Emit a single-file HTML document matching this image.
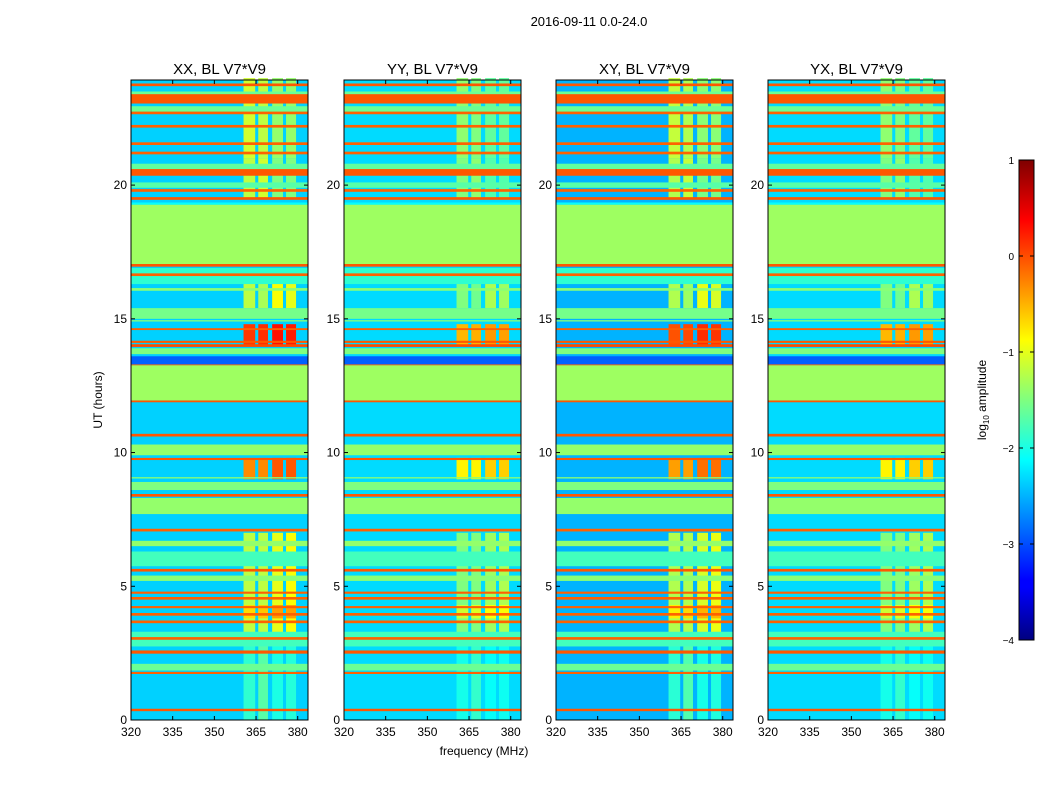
<!DOCTYPE html>
<html><head><meta charset="utf-8"><style>
body{margin:0;background:#fff;font-family:"Liberation Sans",sans-serif}
svg text{font-family:"Liberation Sans",sans-serif}
</style></head><body>
<svg id="fig" width="1050" height="800" viewBox="0 0 1050 800">
<rect width="1050" height="800" fill="#fff"/>
<text x="589" y="26" font-size="13" text-anchor="middle">2016-09-11 0.0-24.0</text>
<g id="panels"></g>
<text x="484" y="755" font-size="12" text-anchor="middle">frequency (MHz)</text>
<text transform="translate(102,400) rotate(-90)" font-size="12" text-anchor="middle">UT (hours)</text>
<defs><linearGradient id="jetg" x1="0" y1="1" x2="0" y2="0">
<stop offset="0" stop-color="#00007f"/><stop offset="0.11" stop-color="#0000ff"/><stop offset="0.125" stop-color="#0000ff"/><stop offset="0.375" stop-color="#00ffff"/><stop offset="0.625" stop-color="#ffff00"/><stop offset="0.875" stop-color="#ff0000"/><stop offset="1" stop-color="#7f0000"/></linearGradient></defs>
<rect x="1019" y="160" width="15" height="480" fill="url(#jetg)" stroke="#000"/>
<g id="cbticks"></g>
<text transform="translate(986,400) rotate(-90)" font-size="12" text-anchor="middle">log<tspan font-size="8" dy="3">10</tspan><tspan dy="-3"> amplitude</tspan></text>
</svg>
<script>
const panelNames = ["XX, BL V7*V9","YY, BL V7*V9","XY, BL V7*V9","YX, BL V7*V9"];
const panelBase = [-2.35,-2.3,-2.5,-2.3];
const rfiScale = [1.0,0.75,0.95,0.75];
const xTicks = [320,335,350,365,380];
const yTicks = [0,5,10,15,20];
const cbTicks = [1,0,-1,-2,-3,-4];
// horizontal bands: start hour, end hour, log10 amplitude
const bandStart = [0.33,1.72,1.85,2.48,2.75,3.0,3.62,3.9,4.18,4.5,4.72,5.2,5.55,5.75,6.5,7.05,7.7,8.35,8.6,9.03,9.72,9.9,10.6,11.88,11.95,13.27,13.3,13.68,13.95,14.1,14.58,14.9,15.0,16.05,16.3,16.6,16.95,17.05,19.27,19.45,19.75,19.9,20.35,20.6,21.15,21.5,22.15,22.65,22.75,23.05,23.4,23.7];
const bandEnd   = [0.42,1.8,2.1,2.6,3.3,3.1,3.72,4.0,4.26,4.6,4.8,5.4,5.65,6.3,6.7,7.15,8.3,8.45,8.9,9.08,9.8,10.3,10.7,11.95,13.27,13.3,13.6,13.9,14.05,14.18,14.65,14.95,15.4,16.15,16.9,16.7,17.05,19.27,19.35,19.55,19.85,20.1,20.65,20.8,21.25,21.6,22.25,22.75,22.95,23.45,23.5,23.8];
const bandValue = [-0.05,-0.1,-1.6,-0.05,-1.8,-0.1,-0.1,-0.1,-0.1,-0.1,-0.1,-1.45,-0.05,-1.8,-1.4,-0.1,-1.4,-0.05,-1.5,-1.45,-0.05,-1.4,-0.05,-0.05,-1.35,-0.05,-2.9,-1.5,0.0,-0.05,-0.1,-1.45,-1.55,-1.45,-1.9,-0.1,-0.05,-1.35,-2.1,-0.05,-0.1,-1.7,-0.05,-1.65,-0.1,-0.1,-0.1,-0.1,-1.6,-0.05,-1.6,-0.05];
// RFI channel columns (MHz)
const rfiFreqStart = [360.5,365.8,370.8,375.8];
const rfiFreqEnd   = [364.7,369.3,374.7,379.4];
// RFI time bands: start hour, end hour, per-column values
const rfiStart = [0,3.1,3.8,9.0,14.0,15.4,19.5,21.0];
const rfiEnd   = [3.0,7.0,4.3,9.8,14.8,16.6,21.0,24.0];
const rfiVals = [[-1.9,-1.7,-2.0,-1.95],[-1.2,-1.2,-1.0,-0.9],[-0.7,-0.6,-0.4,-0.4],[-0.3,-0.3,-0.05,-0.05],[0.1,0.15,0.3,0.25],[-1.2,-1.3,-0.9,-1.0],[-1.2,-1.1,-1.5,-1.5],[-1.1,-1.2,-1.4,-1.4]];
const panelX = [131,344,556,768], PW=177, PT=80, PB=720;
const fMin=320,fMax=383.7,tMin=0,tMax=23.93;
const NS="http://www.w3.org/2000/svg";
function jet(v){let t=Math.max(0,Math.min(1,(v+4)/5));
 const r=Math.max(0,Math.min(1,Math.min(4*t-1.5,-4*t+4.5)));
 const g=Math.max(0,Math.min(1,Math.min(4*t-0.5,-4*t+3.5)));
 const b=Math.max(0,Math.min(1,Math.min(4*t+0.5,-4*t+2.5)));
 return `rgb(${Math.round(r*255)},${Math.round(g*255)},${Math.round(b*255)})`;}
function mk(tag,attrs,parent){const e=document.createElementNS(NS,tag);for(const k in attrs)e.setAttribute(k,attrs[k]);parent.appendChild(e);return e;}
const root=document.getElementById('panels');
panelNames.forEach((name,p)=>{
 const x0=panelX[p];
 const xs=f=>x0+(f-fMin)/(fMax-fMin)*PW;
 const ys=h=>PB-(h-tMin)/(tMax-tMin)*(PB-PT);
 const g=mk('g',{},root);
 
 
 const bg=mk('rect',{x:x0,y:PT,width:PW,height:PB-PT,fill:jet(panelBase[p])},g);
 
 
 rfiStart.forEach((s,i)=>{rfiFreqStart.forEach((fs,c)=>{
  const v=-2.4+(rfiVals[i][c]+2.4)*rfiScale[p];
  const r=mk('rect',{x:xs(fs),y:ys(rfiEnd[i]),width:xs(rfiFreqEnd[c])-xs(fs),height:ys(s)-ys(rfiEnd[i]),fill:jet(v)},g);
  
  
 });});
 bandStart.forEach((s,i)=>{
  const r=mk('rect',{x:x0,y:ys(bandEnd[i]),width:PW,height:Math.max(1,ys(s)-ys(bandEnd[i])),fill:jet(bandValue[i])},g);
  
  
 });
 const fr=mk('rect',{x:x0,y:PT,width:PW,height:PB-PT,fill:'none',stroke:'#000','stroke-width':1},g);
 
 
 const tt=mk('text',{x:x0+PW/2,y:74,'font-size':15,'text-anchor':'middle'},g);tt.textContent=name;
 
 
 xTicks.forEach(f=>{const x=xs(f);
  mk('line',{x1:x,x2:x,y1:PB,y2:PB-4,stroke:'#000'},g);mk('line',{x1:x,x2:x,y1:PT,y2:PT+4,stroke:'#000'},g);
  const t=mk('text',{x:x,y:PB+16,'font-size':12,'text-anchor':'middle'},g);t.textContent=f;
  
  });
 yTicks.forEach(h=>{const y=ys(h);
  mk('line',{x1:x0,x2:x0+4,y1:y,y2:y,stroke:'#000'},g);mk('line',{x1:x0+PW,x2:x0+PW-4,y1:y,y2:y,stroke:'#000'},g);
  const t=mk('text',{x:x0-4,y:y+4,'font-size':12,'text-anchor':'end'},g);t.textContent=h;
  
  });
});
const cb=document.getElementById('cbticks');
cbTicks.forEach(v=>{const y=640-(v+4)/5*480;
 mk('line',{x1:1019,x2:1023,y1:y,y2:y,stroke:'#000'},cb);mk('line',{x1:1034,x2:1030,y1:y,y2:y,stroke:'#000'},cb);
 const t=mk('text',{x:1014,y:y+4,'font-size':10,'text-anchor':'end'},cb);t.textContent=v<0?'\u2212'+(-v):v;
 
 });
</script>
</body></html>
